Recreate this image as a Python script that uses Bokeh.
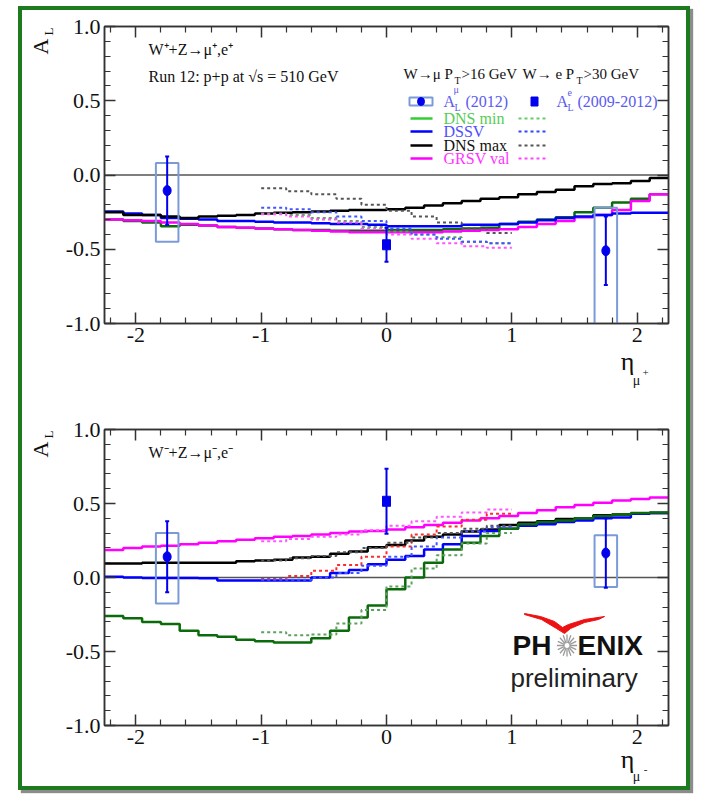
import numpy as np
from bokeh.plotting import figure
from bokeh.layouts import column
from bokeh.models import Range1d, FixedTicker, LinearAxis, Label, Span, CustomJSTickFormatter
from bokeh.embed import file_html
from bokeh.resources import INLINE

# ---------------- data ----------------
x_ticks = [-2, -1, 0, 1, 2]
x_tick_labels = ["-2", "-1", "0", "1", "2"]
x_minor_ticks = [-2.2, -1.8, -1.6, -1.4, -1.2, -0.8, -0.6, -0.4, -0.2,
                 0.2, 0.4, 0.6, 0.8, 1.2, 1.4, 1.6, 1.8, 2.2]
y_ticks = [-1.0, -0.5, 0.0, 0.5, 1.0]
y_tick_labels = ["-1.0", "-0.5", "0.0", "0.5", "1.0"]
y_minor_ticks = [-0.9, -0.8, -0.7, -0.6, -0.4, -0.3, -0.2, -0.1,
                 0.1, 0.2, 0.3, 0.4, 0.6, 0.7, 0.8, 0.9]

# bin edges of the theory histograms (muon: full range, electron: |eta|<1)
eta_edges = [-2.25, -2.10, -1.95, -1.80, -1.65, -1.50, -1.35, -1.20, -1.05, -0.90,
             -0.75, -0.60, -0.45, -0.30, -0.15, 0.00, 0.15, 0.30, 0.45, 0.60,
             0.75, 0.90, 1.05, 1.20, 1.35, 1.50, 1.65, 1.80, 1.95, 2.10, 2.25]
e_edges = [-1.0, -0.8, -0.6, -0.4, -0.2, 0.0, 0.2, 0.4, 0.6, 0.8, 1.0]

# ---- W+ panel: theory (muon kinematics, solid) ----
wp_dns_min = [-0.30, -0.31, -0.32, -0.345, -0.335, -0.34, -0.35, -0.355, -0.36, -0.365,
              -0.37, -0.37, -0.375, -0.375, -0.375, -0.37, -0.37, -0.37, -0.365, -0.36,
              -0.355, -0.33, -0.315, -0.30, -0.285, -0.25, -0.22, -0.185, -0.16, -0.13]
wp_dssv = [-0.245, -0.26, -0.27, -0.29, -0.295, -0.30, -0.31, -0.31, -0.315, -0.32,
           -0.32, -0.325, -0.33, -0.33, -0.335, -0.345, -0.345, -0.345, -0.345, -0.335,
           -0.335, -0.33, -0.32, -0.305, -0.29, -0.28, -0.27, -0.26, -0.255, -0.255]
wp_dns_max = [-0.25, -0.27, -0.27, -0.28, -0.29, -0.28, -0.275, -0.27, -0.26, -0.255,
              -0.25, -0.245, -0.24, -0.235, -0.235, -0.23, -0.22, -0.205, -0.19, -0.175,
              -0.16, -0.15, -0.13, -0.115, -0.10, -0.075, -0.06, -0.055, -0.04, -0.02]
wp_grsv = [-0.30, -0.305, -0.31, -0.32, -0.33, -0.34, -0.35, -0.355, -0.36, -0.365,
           -0.37, -0.375, -0.38, -0.385, -0.385, -0.385, -0.385, -0.385, -0.38, -0.375,
           -0.37, -0.365, -0.35, -0.33, -0.31, -0.285, -0.27, -0.235, -0.175, -0.13]
# ---- W+ panel: theory (electron kinematics, dotted) ----
wp_e_dns_min = [-0.26, -0.27, -0.29, -0.31, -0.35, -0.38, -0.40, -0.42, -0.45, -0.46]
wp_e_dssv = [-0.22, -0.23, -0.25, -0.28, -0.31, -0.36, -0.40, -0.43, -0.45, -0.46]
wp_e_dns_max = [-0.09, -0.11, -0.13, -0.16, -0.20, -0.24, -0.28, -0.32, -0.36, -0.39]
wp_e_grsv = [-0.265, -0.28, -0.30, -0.32, -0.36, -0.40, -0.43, -0.46, -0.48, -0.49]

# ---- W- panel: theory (muon kinematics, solid) ----
wm_dns_min = [-0.26, -0.275, -0.30, -0.315, -0.36, -0.39, -0.40, -0.42, -0.43, -0.44,
              -0.44, -0.41, -0.36, -0.27, -0.19, -0.08, 0.00, 0.10, 0.19, 0.235,
              0.28, 0.33, 0.36, 0.375, 0.385, 0.40, 0.415, 0.425, 0.435, 0.44]
wm_dssv = [0.005, 0.0, -0.003, -0.003, -0.003, -0.005, -0.02, -0.02, -0.02, -0.02,
           -0.02, 0.0, 0.03, 0.05, 0.09, 0.12, 0.145, 0.19, 0.225, 0.28,
           0.315, 0.33, 0.35, 0.36, 0.375, 0.385, 0.40, 0.405, 0.43, 0.435]
wm_dns_max = [0.095, 0.095, 0.10, 0.10, 0.10, 0.10, 0.10, 0.11, 0.115, 0.12,
              0.135, 0.14, 0.16, 0.175, 0.205, 0.22, 0.25, 0.275, 0.29, 0.31,
              0.325, 0.355, 0.37, 0.38, 0.395, 0.40, 0.42, 0.425, 0.43, 0.435]
wm_grsv = [0.185, 0.20, 0.21, 0.215, 0.225, 0.235, 0.245, 0.255, 0.265, 0.275,
           0.28, 0.29, 0.30, 0.31, 0.315, 0.325, 0.34, 0.355, 0.37, 0.385,
           0.40, 0.415, 0.435, 0.455, 0.475, 0.49, 0.505, 0.52, 0.53, 0.54]
# ---- W- panel: theory (electron kinematics, dotted) ----
wm_e_dns_min = [-0.37, -0.39, -0.385, -0.31, -0.22, -0.06, 0.06, 0.15, 0.23, 0.30]
wm_e_dssv = [-0.015, -0.015, 0.0, 0.03, 0.08, 0.14, 0.21, 0.27, 0.31, 0.34]
wm_e_red = [-0.01, 0.01, 0.045, 0.085, 0.14, 0.21, 0.29, 0.345, 0.39, 0.43]
wm_e_dns_max = [0.115, 0.13, 0.145, 0.17, 0.20, 0.235, 0.27, 0.30, 0.33, 0.35]
wm_e_grsv = [0.245, 0.26, 0.275, 0.29, 0.32, 0.35, 0.38, 0.41, 0.44, 0.46]

# ---- measured points ----
mu_eta = [-1.75, 1.75]
e_eta = [0.0]
wp_mu_AL = [-0.105, -0.51]
wp_mu_stat = [0.23, 0.23]
wp_mu_sys_lo = [-0.45, -1.2]
wp_mu_sys_hi = [0.08, -0.22]
wp_e_AL = [-0.47]
wp_e_stat = [0.115]

wm_mu_AL = [0.14, 0.165]
wm_mu_stat = [0.24, 0.235]
wm_mu_sys_lo = [-0.175, -0.065]
wm_mu_sys_hi = [0.30, 0.285]
wm_e_AL = [0.515]
wm_e_stat = [0.22]

# ---------------- layout constants ----------------
FRAME_L = 104          # page px of the frame's left edge
PXU_X = 564 / 4.5      # px per eta unit
SERIF = "'Liberation Serif', serif"
SANS = "'Liberation Sans', sans-serif"
AXC = "#333333"
BLUE = "#0000ee"
BOXC = "#7b9ad8"


def style_axis(ax, ticker, labels=None):
    ax.ticker = ticker
    ax.axis_line_color = AXC
    ax.axis_line_width = 1.5
    ax.major_tick_line_color = AXC
    ax.major_tick_line_width = 1.5
    ax.minor_tick_line_color = AXC
    ax.minor_tick_line_width = 1.2
    ax.major_tick_in = 11
    ax.major_tick_out = 0
    ax.minor_tick_in = 6
    ax.minor_tick_out = 0
    ax.major_label_text_font = SERIF
    ax.major_label_text_font_size = "22px"
    ax.major_label_text_color = "#111111"
    ax.major_label_standoff = 4
    if labels is None:
        ax.formatter = CustomJSTickFormatter(code="return ''")
        ax.major_label_text_color = None
    else:
        ax.major_label_overrides = labels


def make_panel(height, border_top, border_bottom):
    p = figure(width=664, height=height, x_range=Range1d(-2.25, 2.25), y_range=Range1d(-1.0, 1.0),
               output_backend="svg", toolbar_location=None,
               min_border_left=82, min_border_right=18, min_border_top=border_top,
               min_border_bottom=border_bottom)
    p.xgrid.visible = False
    p.ygrid.visible = False
    p.outline_line_color = AXC
    p.outline_line_width = 1.5
    p.background_fill_color = "white"
    p.border_fill_color = "white"
    xlab = dict(zip(x_ticks, x_tick_labels))
    ylab = dict(zip(y_ticks, y_tick_labels))
    style_axis(p.below[0], FixedTicker(ticks=x_ticks, minor_ticks=x_minor_ticks), xlab)
    style_axis(p.left[0], FixedTicker(ticks=y_ticks, minor_ticks=y_minor_ticks), ylab)
    top_ax = LinearAxis()
    style_axis(top_ax, FixedTicker(ticks=x_ticks, minor_ticks=x_minor_ticks))
    right_ax = LinearAxis()
    style_axis(right_ax, FixedTicker(ticks=y_ticks, minor_ticks=y_minor_ticks))
    p.add_layout(top_ax, "above")
    p.add_layout(right_ax, "right")
    p.add_layout(Span(location=0, dimension="width", line_color="#555555", line_width=1.5, level="underlay"))
    return p


def px2d(ftop, fh, px, py):
    return (-2.25 + (px - FRAME_L) / PXU_X, 1.0 - 2.0 * (py - ftop) / fh)


def lab(p, ftop, fh, px, py, text, size, color="#111111", font=SERIF, align="left",
        angle=0.0, style="normal", side="center"):
    x, y = px2d(ftop, fh, px, py)
    p.add_layout(Label(x=x, y=y, text=text, text_font=font, text_font_size=f"{size}px",
                       text_color=color, text_align=align, text_baseline="middle",
                       angle=angle, text_font_style=style), side)


def seg(p, ftop, fh, px0, px1, py, color, dash="solid", width=2.5):
    x0, y0 = px2d(ftop, fh, px0, py)
    x1, _ = px2d(ftop, fh, px1, py)
    p.line([x0, x1], [y0, y0], line_color=color, line_width=width, line_dash=dash)


def steps(p, edges, vals, color, dash="solid", width=2.5):
    p.step(edges, list(vals) + [vals[-1]], mode="after", line_color=color,
           line_width=width, line_dash=dash)


def data_points(p, mu_AL, mu_stat, sys_lo, sys_hi, e_AL, e_stat):
    mu = np.array(mu_AL)
    st = np.array(mu_stat)
    eta = np.array(mu_eta)
    p.quad(left=eta - 0.09, right=eta + 0.09, bottom=sys_lo, top=sys_hi,
           fill_color=None, line_color=BOXC, line_width=2)
    p.segment(x0=eta, y0=mu - st, x1=eta, y1=mu + st, line_color=BLUE, line_width=2)
    p.scatter(np.concatenate([eta, eta]), np.concatenate([mu - st, mu + st]), marker="dash",
              size=4, line_color=BLUE, line_width=2)
    p.ellipse(x=eta, y=mu, width=8, height=10, width_units="screen", height_units="screen",
              fill_color=BLUE, line_color=BLUE)
    ea = np.array(e_AL)
    es = np.array(e_stat)
    p.segment(x0=e_eta, y0=ea - es, x1=e_eta, y1=ea + es, line_color=BLUE, line_width=2)
    p.scatter(e_eta * 2, list(ea - es) + list(ea + es), marker="dash", size=4,
              line_color=BLUE, line_width=2)
    p.rect(x=e_eta, y=ea, width=8, height=10, width_units="screen", height_units="screen",
           fill_color=BLUE, line_color=BLUE)


# ================= top panel (W+) =================
T1, H1 = 26, 297
p1 = make_panel(405, 16, 92)
steps(p1, eta_edges, wp_dns_min, "#0b6b0b")
steps(p1, eta_edges, wp_grsv, "#ff00ff")
steps(p1, eta_edges, wp_dssv, "#0000ff")
steps(p1, eta_edges, wp_dns_max, "#000000")
steps(p1, e_edges, wp_e_dns_min, "#5f9f5f", "3 3", 2)
steps(p1, e_edges, wp_e_grsv, "#ff55ff", "3 3", 2)
steps(p1, e_edges, wp_e_dssv, "#4455ff", "3 3", 2)
steps(p1, e_edges, wp_e_dns_max, "#555555", "3 3", 2)
data_points(p1, wp_mu_AL, wp_mu_stat, wp_mu_sys_lo, wp_mu_sys_hi, wp_e_AL, wp_e_stat)

lab(p1, T1, H1, 148, 49, "W\u207a+Z\u2192\u03bc\u207a,e\u207a", 16)
lab(p1, T1, H1, 148, 76, "Run 12: p+p at \u221as = 510 GeV", 16)
# legend header
lab(p1, T1, H1, 403, 73, "W\u2192\u03bc P", 15)
lab(p1, T1, H1, 454, 80, "T", 10)
lab(p1, T1, H1, 461, 73, ">16 GeV", 15)
lab(p1, T1, H1, 522, 73, "W\u2192 e P", 15)
lab(p1, T1, H1, 576, 80, "T", 10)
lab(p1, T1, H1, 583, 73, ">30 GeV", 15)
# legend row: data
LEGC = "#5a5aee"
bx0, by0 = px2d(T1, H1, 409, 105)
bx1, by1 = px2d(T1, H1, 432, 97)
p1.quad(left=[bx0], right=[bx1], bottom=[by0], top=[by1], fill_color=None, line_color=BOXC, line_width=2)
dx, dy = px2d(T1, H1, 420.5, 101)
p1.ellipse(x=[dx], y=[dy], width=7, height=8, width_units="screen", height_units="screen",
           fill_color=BLUE, line_color=BLUE)
lab(p1, T1, H1, 443, 101, "A", 16, LEGC)
lab(p1, T1, H1, 454, 107, "L", 10, LEGC)
lab(p1, T1, H1, 453, 89, "\u03bc", 10, LEGC)
lab(p1, T1, H1, 465, 101, "(2012)", 16, LEGC)
sx, sy = px2d(T1, H1, 534, 101)
p1.rect(x=[sx], y=[sy], width=7, height=9, width_units="screen", height_units="screen",
        fill_color=BLUE, line_color=BLUE)
lab(p1, T1, H1, 556, 101, "A", 16, LEGC)
lab(p1, T1, H1, 567, 107, "L", 10, LEGC)
lab(p1, T1, H1, 567, 92, "e", 10, LEGC)
lab(p1, T1, H1, 577, 101, "(2009-2012)", 16, LEGC)
# legend rows: theory
leg_rows = [("DNS min", 118, "#33cc33", "#55cc55", "#66cc66"),
            ("DSSV", 131, "#0000ff", "#5050ff", "#3344ff"),
            ("DNS max", 145, "#000000", "#111111", "#555555"),
            ("GRSV val", 158, "#ff00ff", "#ff33ff", "#ff44ff")]
for name, py, lc, tc, dc in leg_rows:
    seg(p1, T1, H1, 410, 432, py, lc)
    lab(p1, T1, H1, 443, py, name, 16, tc)
    seg(p1, T1, H1, 518, 545, py, dc, "3 3", 2)
# axis titles (placed in side panels so that they are not clipped)
lab(p1, T1, H1, 40, 46, "A", 22, align="center", angle=np.pi / 2, side="left")
lab(p1, T1, H1, 48, 31, "L", 13, align="center", angle=np.pi / 2, side="left")
lab(p1, T1, H1, 627, 361, "\u03b7", 26, align="center", side="below")
lab(p1, T1, H1, 636, 380, "\u03bc", 14, align="center", side="below")
lab(p1, T1, H1, 645, 372, "+", 11, align="center", side="below")

# ================= bottom panel (W-) =================
T2, H2 = 429, 296
p2 = make_panel(371, 14, 61)
steps(p2, eta_edges, wm_grsv, "#ff00ff")
steps(p2, eta_edges, wm_dns_max, "#000000")
steps(p2, eta_edges, wm_dssv, "#0000ff")
steps(p2, eta_edges, wm_dns_min, "#0b6b0b")
steps(p2, e_edges, wm_e_grsv, "#ff55ff", "3 3", 2)
steps(p2, e_edges, wm_e_red, "#ff2a2a", "3 3", 2)
steps(p2, e_edges, wm_e_dssv, "#4455ff", "3 3", 2)
steps(p2, e_edges, wm_e_dns_max, "#555555", "3 3", 2)
steps(p2, e_edges, wm_e_dns_min, "#5f9f5f", "3 3", 2)
data_points(p2, wm_mu_AL, wm_mu_stat, wm_mu_sys_lo, wm_mu_sys_hi, wm_e_AL, wm_e_stat)

lab(p2, T2, H2, 148, 452, "W\u207b+Z\u2192\u03bc\u207b,e\u207b", 16)
lab(p2, T2, H2, 40, 449, "A", 22, align="center", angle=np.pi / 2, side="left")
lab(p2, T2, H2, 48, 434, "L", 13, align="center", angle=np.pi / 2, side="left")
lab(p2, T2, H2, 627, 759, "\u03b7", 26, align="center", side="below")
lab(p2, T2, H2, 636, 776, "\u03bc", 14, align="center", side="right")
lab(p2, T2, H2, 645, 769, "-", 11, align="center", side="right")

# PHENIX preliminary logo
wing_px = [(524, 613), (540, 616), (554, 621), (562, 627), (568, 624), (584, 619),
           (604, 616), (598, 619), (584, 622), (570, 628), (564, 633), (556, 628),
           (541, 619), (524, 614)]
wx, wy = zip(*[px2d(T2, H2, a, b) for a, b in wing_px])
p2.patch(list(wx), list(wy), fill_color="#ee1111", line_color="#ee1111", line_width=1)
lab(p2, T2, H2, 512, 645, "PH", 28, "#111111", SANS, style="bold")
lab(p2, T2, H2, 577, 645, "ENIX", 28, "#111111", SANS, style="bold")
cx, cy = 566.5, 645
ang = np.arange(16) * np.pi / 8
r0x, r0y = zip(*[px2d(T2, H2, cx + 2.5 * np.cos(a), cy + 2.5 * np.sin(a)) for a in ang])
r1x, r1y = zip(*[px2d(T2, H2, cx + 10 * np.cos(a), cy + 11 * np.sin(a)) for a in ang])
p2.segment(x0=list(r0x), y0=list(r0y), x1=list(r1x), y1=list(r1y), line_color="#9a9a9a", line_width=1.3)
lab(p2, T2, H2, 510, 677, "preliminary", 26, "#222222", SANS)

layout = column(p1, p2, margin=(6, 0, 0, 18),
                styles={"border": "4px solid #1e7a1e", "box-shadow": "3px 3px 1px #8c8c8c"})

open("out.html", "w").write(file_html(layout, INLINE))
